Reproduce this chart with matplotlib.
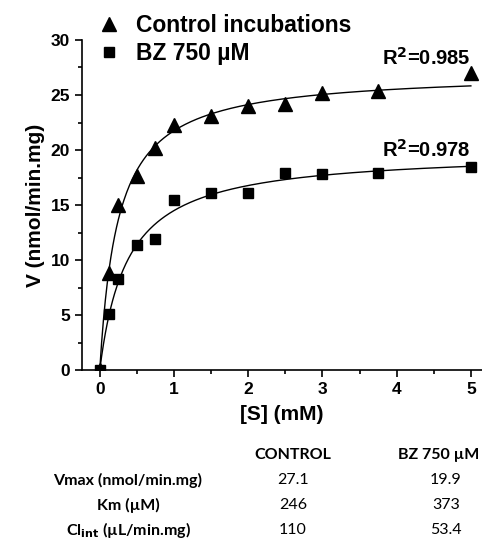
import numpy as np
import matplotlib.pyplot as plt
from matplotlib.ticker import MultipleLocator

plt.rcParams['font.family'] = ['Liberation Sans', 'DejaVu Sans']
plt.rcParams['font.weight'] = 'bold'

# substrate concentrations (mM)
s_conc = [0, 0.125, 0.25, 0.5, 0.75, 1, 1.5, 2, 2.5, 3, 3.75, 5]
# measured velocities (nmol/min.mg)
v_control = [0, 8.8, 15.0, 17.6, 20.2, 22.3, 23.1, 24.0, 24.2, 25.2, 25.4, 27.0]
v_bz = [0, 5.1, 8.3, 11.4, 11.9, 15.5, 16.1, 16.1, 17.9, 17.8, 17.9, 18.5]

# fitted kinetic parameters (table)
vmax = [27.1, 19.9]         # nmol/min.mg
km_um = [246, 373]          # uM
clint = ['110', '53.4']
r2 = ['0.985', '0.978']

fig = plt.figure(figsize=(4.82, 5.39), dpi=100)
ax = fig.add_axes([0.170, 0.3135, 0.830, 0.6123])

# Michaelis-Menten fit curves from the table parameters
s_fit = np.linspace(0, 5, 400)
for vm, km in zip(vmax, km_um):
    ax.plot(s_fit, vm * s_fit / (km / 1000 + s_fit), 'k-', lw=1)

ax.plot(s_conc, v_control, 'k^', ms=9.5, ls='none', label='Control incubations')
ax.plot(s_conc, v_bz, 'ks', ms=7.5, ls='none', label='BZ 750 µM')

ax.set_xlim(-0.24, 5.15)
ax.set_ylim(0, 30)
ax.xaxis.set_major_locator(MultipleLocator(1))
ax.xaxis.set_minor_locator(MultipleLocator(0.5))
ax.yaxis.set_major_locator(MultipleLocator(5))
ax.yaxis.set_minor_locator(MultipleLocator(2.5))
ax.tick_params(which='major', length=5, width=1.2, labelsize=12.5, direction='out')
ax.tick_params(which='minor', length=3, width=1.2, direction='out')
for sp in ['top', 'right']:
    ax.spines[sp].set_visible(False)
for sp in ['left', 'bottom']:
    ax.spines[sp].set_linewidth(1.2)
ax.spines['left'].set_bounds(0, 30)

ax.set_xlabel('[S] (mM)', fontsize=15, fontweight='bold', labelpad=6)
ax.set_ylabel('V (nmol/min.mg)', fontsize=15, fontweight='bold', labelpad=4)

ax.text(5.0, 27.7, 'R$^\\mathbf{2}$=' + r2[0], ha='right', va='baseline', fontsize=14.5, fontweight='bold')
ax.text(5.0, 19.4, 'R$^\\mathbf{2}$=' + r2[1], ha='right', va='baseline', fontsize=14.5, fontweight='bold')

ax.legend(loc='upper left', bbox_to_anchor=(-0.025, 1.14), frameon=False, handlelength=1.4,
          handletextpad=0.5, labelspacing=0.2, numpoints=1, prop={'weight': 'bold', 'size': 16.5})

# parameter table below the plot
tfont = ['Lato', 'DejaVu Sans']
fs = 11.5
fig.text(293 / 482, 1 - 455 / 539, 'CONTROL', ha='center', va='center', fontsize=fs,
         fontweight='bold', family=tfont)
fig.text(439 / 482, 1 - 455 / 539, 'BZ 750 µM', ha='center', va='center', fontsize=fs,
         fontweight='bold', family=tfont)
rows = [('Vmax (nmol/min.mg)', f'{vmax[0]}', f'{vmax[1]}'),
        ('Km (µM)', f'{km_um[0]}', f'{km_um[1]}'),
        ('Cl$_{\\mathbf{int}}$ (µL/min.mg)', clint[0], clint[1])]
for i, (lab, c1, c2) in enumerate(rows):
    y = 1 - (480 + 25 * i) / 539
    fig.text(128 / 482, y, lab, ha='center', va='center', fontsize=fs,
             fontweight='bold', family=tfont)
    fig.text(293 / 482, y, c1, ha='center', va='center', fontsize=fs,
             fontweight='normal', family=tfont)
    fig.text(446 / 482, y, c2, ha='center', va='center', fontsize=fs,
             fontweight='normal', family=tfont)

fig.savefig('out.png', dpi=100)
